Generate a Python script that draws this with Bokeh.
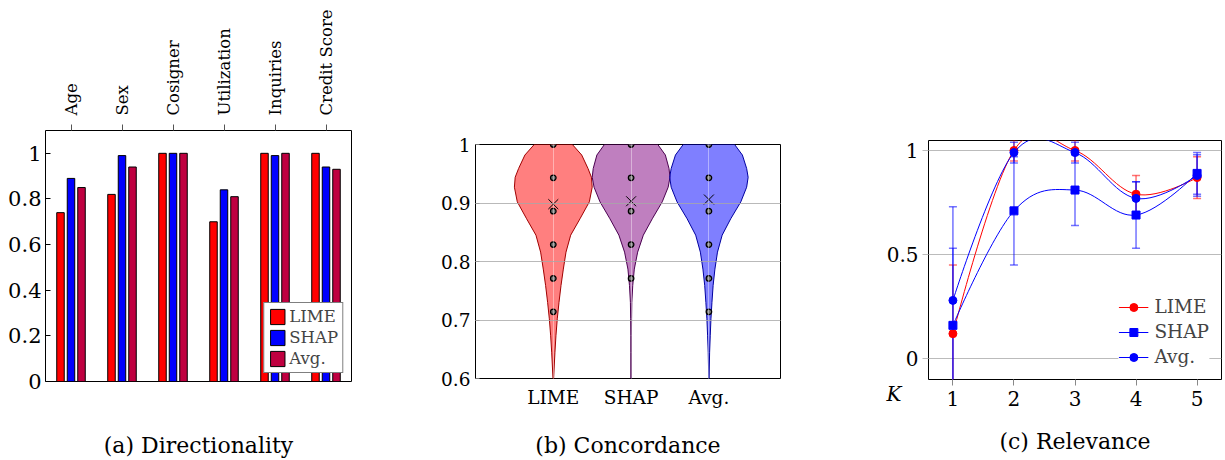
import math
from bokeh.plotting import figure
from bokeh.layouts import row, column
from bokeh.models import (FactorRange, Range1d, LinearAxis, FixedTicker, Legend,
                          LegendItem, ColumnDataSource)
from bokeh.transform import dodge
from bokeh.embed import file_html
from bokeh.resources import INLINE

FONT = "DejaVu Serif"
RED = "#FF0000"
BLUE = "#0000FF"
PURPLE = "#BF0040"

# ---------------- (a) Directionality ----------------
features = ["Age", "Sex", "Cosigner", "Utilization", "Inquiries", "Credit Score"]
dir_lime = [0.74, 0.82, 1.00, 0.70, 1.00, 1.00]
dir_shap = [0.89, 0.99, 1.00, 0.84, 0.99, 0.94]
dir_avg = [0.85, 0.94, 1.00, 0.81, 1.00, 0.93]
dir_ticks = [0, 0.2, 0.4, 0.6, 0.8, 1.0]
dir_tick_labels = ["0", "0.2", "0.4", "0.6", "0.8", "1"]

# ---------------- (b) Concordance ----------------
methods = ["LIME", "SHAP", "Avg."]
conc_points_lime = [1.0, 0.943, 0.886, 0.829, 0.771, 0.714]
conc_points_shap = [1.0, 0.943, 0.886, 0.829, 0.771]
conc_points_avg = [1.0, 0.943, 0.886, 0.829, 0.771, 0.714]
conc_means = [0.898, 0.903, 0.906]
violin_levels = [0.6, 0.645, 0.673, 0.702, 0.730, 0.759, 0.787, 0.816, 0.845,
                 0.873, 0.902, 0.927, 0.944, 0.959, 0.982, 1.0]
violin_half_lime = [0.004, 0.021, 0.034, 0.051, 0.073, 0.099, 0.129, 0.163, 0.223,
                    0.343, 0.463, 0.500, 0.490, 0.446, 0.365, 0.245]
violin_half_shap = [0.004, 0.004, 0.004, 0.006, 0.009, 0.021, 0.041, 0.084, 0.157,
                    0.272, 0.400, 0.476, 0.500, 0.487, 0.440, 0.343]
violin_half_avg = [0.002, 0.009, 0.017, 0.026, 0.039, 0.054, 0.077, 0.110, 0.170,
                   0.280, 0.410, 0.485, 0.504, 0.485, 0.430, 0.330]
conc_ticks = [0.6, 0.7, 0.8, 0.9, 1.0]
conc_tick_labels = ["0.6", "0.7", "0.8", "0.9", "1"]

# ---------------- (c) Relevance ----------------
K = [1, 2, 3, 4, 5]
rel_lime = [0.12, 1.00, 1.00, 0.79, 0.87]
rel_lime_err = [0.33, 0.05, 0.05, 0.09, 0.10]
rel_shap = [0.16, 0.71, 0.81, 0.69, 0.89]
rel_shap_err = [0.37, 0.26, 0.17, 0.16, 0.10]
rel_avg = [0.28, 0.99, 0.99, 0.77, 0.88]
rel_avg_err = [0.45, 0.05, 0.05, 0.08, 0.10]
rel_ticks = [0, 0.5, 1.0]
rel_tick_labels = ["0", "0.5", "1"]

captions = ["(a) Directionality", "(b) Concordance", "(c) Relevance"]
CAP_SIZE = "22px"
H = 460


def style_fig(p):
    p.outline_line_color = "black"
    p.outline_line_width = 1
    p.background_fill_color = "white"
    p.border_fill_color = "white"


def caption_style(ax, text, standoff):
    ax.axis_label = text
    ax.axis_label_standoff = standoff
    ax.axis_label_text_font = FONT
    ax.axis_label_text_font_size = CAP_SIZE
    ax.axis_label_text_font_style = "normal"
    ax.axis_label_text_color = "black"


# ======== Panel A ========
pa = figure(width=410, height=H, x_range=FactorRange(*features),
            y_range=Range1d(0, 1.1), x_axis_location="above",
            toolbar_location=None, output_backend="svg",
            min_border_left=45, min_border_right=59, min_border_top=130,
            min_border_bottom=H - 383)
style_fig(pa)
pa.xgrid.visible = False
pa.ygrid.visible = False
src_a = ColumnDataSource(dict(feat=features, lime=dir_lime, shap=dir_shap, avg=dir_avg))
ra1 = pa.vbar(x=dodge("feat", -0.206, range=pa.x_range), top="lime", width=0.147,
              source=src_a, fill_color=RED, line_color="black", line_width=1)
ra2 = pa.vbar(x=dodge("feat", 0.0, range=pa.x_range), top="shap", width=0.147,
              source=src_a, fill_color=BLUE, line_color="black", line_width=1)
ra3 = pa.vbar(x=dodge("feat", 0.206, range=pa.x_range), top="avg", width=0.147,
              source=src_a, fill_color=PURPLE, line_color="black", line_width=1)
xa = pa.xaxis[0]
xa.major_label_orientation = math.pi / 2
xa.major_label_text_font = FONT
xa.major_label_text_font_size = "16.5px"
xa.major_label_text_color = "black"
xa.major_tick_in = 0
xa.major_tick_out = 6
xa.major_tick_line_color = "#555555"
xa.axis_line_color = None
xa.major_label_standoff = 9
ya = pa.yaxis[0]
ya.ticker = FixedTicker(ticks=dir_ticks)
ya.major_label_overrides = dict(zip(dir_ticks, dir_tick_labels))
ya.major_label_text_font = FONT
ya.major_label_text_font_size = "21px"
ya.major_label_text_color = "black"
ya.major_tick_in = 5
ya.major_tick_out = 0
ya.minor_tick_line_color = None
ya.axis_line_color = None
ya.major_label_standoff = 4
cap_a = LinearAxis(ticker=FixedTicker(ticks=[]), major_tick_in=0, major_tick_out=0,
                   minor_tick_line_color=None, axis_line_color=None)
caption_style(cap_a, captions[0], 51)
pa.add_layout(cap_a, "below")
leg_a = Legend(items=[LegendItem(label="LIME", renderers=[ra1]),
                      LegendItem(label="SHAP", renderers=[ra2]),
                      LegendItem(label="Avg.", renderers=[ra3])],
               location="bottom_right", margin=8, padding=4, spacing=2,
               glyph_width=18, glyph_height=19, label_height=19, label_standoff=3,
               label_text_font=FONT, label_text_font_size="16.5px",
               border_line_color="black", border_line_width=1,
               background_fill_alpha=1)
pa.add_layout(leg_a)

# ======== Panel B ========
pb = figure(width=430, height=H, x_range=Range1d(0, 3.92), y_range=Range1d(0.6, 1.0),
            toolbar_location=None, output_backend="svg",
            min_border_left=65, min_border_right=60, min_border_top=144,
            min_border_bottom=H - 378)
style_fig(pb)
pos = [i + 1 for i in range(len(methods))]
halves = [violin_half_lime, violin_half_shap, violin_half_avg]
points = [conc_points_lime, conc_points_shap, conc_points_avg]
fills = ["#FF0000", "#800080", "#0000FF"]
edges = ["#A00000", "#4A0050", "#0000A0"]
for c, half, fc, ec in zip(pos, halves, fills, edges):
    xs = [c - w for w in half] + [c + w for w in reversed(half)]
    ys = list(violin_levels) + list(reversed(violin_levels))
    pb.patch(xs, ys, fill_color=fc, fill_alpha=0.5, line_color=ec, line_width=1)
for c, pts in zip(pos, points):
    pb.scatter(x=[c] * len(pts), y=pts, size=5.5, fill_color="#7a7a7a",
               line_color="black", line_width=1.3)
pb.scatter(x=pos, y=conc_means, marker="x", size=14, line_color="black", line_width=1)
pb.ygrid.ticker = FixedTicker(ticks=[0.7, 0.8, 0.9])
pb.ygrid.grid_line_color = "#a8a8a8"
pb.ygrid.grid_line_alpha = 0.8
pb.ygrid.level = "annotation"
pb.xgrid.ticker = FixedTicker(ticks=pos)
pb.xgrid.grid_line_color = "#ffffff"
pb.xgrid.grid_line_alpha = 0.4
pb.xgrid.level = "annotation"
yb = pb.yaxis[0]
yb.ticker = FixedTicker(ticks=conc_ticks)
yb.major_label_overrides = dict(zip(conc_ticks, conc_tick_labels))
yb.major_label_text_font = FONT
yb.major_label_text_font_size = "18.5px"
yb.major_label_text_color = "black"
yb.major_tick_in = 4
yb.major_tick_out = 0
yb.major_tick_line_color = "#777777"
yb.minor_tick_line_color = None
yb.axis_line_color = None
yb.major_label_standoff = 5
xb = pb.xaxis[0]
xb.ticker = FixedTicker(ticks=pos)
xb.major_label_overrides = dict(zip(pos, methods))
xb.major_label_text_font = FONT
xb.major_label_text_font_size = "18.5px"
xb.major_label_text_color = "black"
xb.major_tick_in = 0
xb.major_tick_out = 0
xb.minor_tick_line_color = None
xb.axis_line_color = None
xb.major_label_standoff = 8
caption_style(xb, captions[1], 22)

# ======== Panel C ========
pc = figure(width=384, height=H, x_range=Range1d(0.6, 5.4), y_range=Range1d(-0.1, 1.048),
            toolbar_location=None, output_backend="svg",
            min_border_left=88, min_border_right=3, min_border_top=140,
            min_border_bottom=H - 379)
style_fig(pc)


def smooth_segments(xs, ys, tension=0.55):
    f = tension / 3.0
    n = len(xs)
    d = dict(x0=[], y0=[], x1=[], y1=[], cx0=[], cy0=[], cx1=[], cy1=[])
    for i in range(n - 1):
        xa_, ya_ = xs[i], ys[i]
        xb_, yb_ = xs[i + 1], ys[i + 1]
        if i == 0:
            c0 = (xa_, ya_)
        else:
            c0 = (xa_ + f * (xs[i + 1] - xs[i - 1]), ya_ + f * (ys[i + 1] - ys[i - 1]))
        if i + 1 == n - 1:
            c1 = (xb_, yb_)
        else:
            c1 = (xb_ - f * (xs[i + 2] - xs[i]), yb_ - f * (ys[i + 2] - ys[i]))
        d["x0"].append(xa_); d["y0"].append(ya_)
        d["x1"].append(xb_); d["y1"].append(yb_)
        d["cx0"].append(c0[0]); d["cy0"].append(c0[1])
        d["cx1"].append(c1[0]); d["cy1"].append(c1[1])
    return ColumnDataSource(d)


series = [
    ("LIME", rel_lime, rel_lime_err, RED, "circle"),
    ("Avg.", rel_avg, rel_avg_err, BLUE, "circle"),
    ("SHAP", rel_shap, rel_shap_err, BLUE, "square"),
]
legend_rends = {}
for name, vals, errs, col, mk in series:
    lo = [v - e for v, e in zip(vals, errs)]
    hi = [v + e for v, e in zip(vals, errs)]
    pc.segment(x0=K, y0=lo, x1=K, y1=hi, line_color=col, line_alpha=0.55, line_width=1.5)
    pc.scatter(x=K, y=lo, marker="dash", size=8, line_color=col, line_alpha=0.55, line_width=1.5)
    pc.scatter(x=K, y=hi, marker="dash", size=8, line_color=col, line_alpha=0.55, line_width=1.5)
for name, vals, errs, col, mk in series:
    bz = pc.bezier(x0="x0", y0="y0", x1="x1", y1="y1", cx0="cx0", cy0="cy0",
                   cx1="cx1", cy1="cy1", source=smooth_segments(K, vals),
                   line_color=col, line_width=1)
    sc = pc.scatter(x=K, y=vals, marker=mk, size=8, fill_color=col, line_color=col)
    legend_rends[name] = [bz, sc]

leg_c = Legend(items=[LegendItem(label=n, renderers=legend_rends[n]) for n in methods],
               location="bottom_right", margin=12, padding=2, spacing=4,
               glyph_width=30, glyph_height=20, label_height=20, label_standoff=6,
               label_text_font=FONT, label_text_font_size="18.5px",
               border_line_color=None, background_fill_alpha=1)
pc.add_layout(leg_c)
pc.xgrid.visible = False
pc.ygrid.ticker = FixedTicker(ticks=rel_ticks)
pc.ygrid.grid_line_color = "#bbbbbb"
xc = pc.xaxis[0]
xc.ticker = FixedTicker(ticks=K)
xc.major_label_text_font = FONT
xc.major_label_text_font_size = "20px"
xc.major_label_text_color = "black"
xc.major_tick_in = 0
xc.major_tick_out = 6
xc.major_tick_line_color = "#888888"
xc.minor_tick_line_color = None
xc.axis_line_color = None
xc.major_label_standoff = 5
caption_style(xc, captions[2], 20)
yc = pc.yaxis[0]
yc.ticker = FixedTicker(ticks=rel_ticks)
yc.major_label_overrides = dict(zip(rel_ticks, rel_tick_labels))
yc.major_label_text_font = FONT
yc.major_label_text_font_size = "20px"
yc.major_label_text_color = "black"
yc.major_tick_in = 0
yc.major_tick_out = 6
yc.major_tick_line_color = "#bbbbbb"
yc.minor_tick_line_color = None
yc.axis_line_color = None
yc.major_label_standoff = 4
# the "K" marker of the x axis, drawn as the single label of an outer left axis;
# the leading line break drops it to the row of the x tick labels
k_axis = LinearAxis(ticker=FixedTicker(ticks=[-0.1]), major_label_overrides={-0.1: "\nK"},
                    major_label_text_font=FONT, major_label_text_font_size="20px",
                    major_label_text_font_style="italic", major_label_text_color="black",
                    major_tick_in=0, major_tick_out=0, minor_tick_line_color=None,
                    axis_line_color=None, major_label_standoff=-18)
pc.add_layout(k_axis, "left")

layout = row(column(pa), column(pb), column(pc))
open("out.html", "w").write(file_html(layout, INLINE))
